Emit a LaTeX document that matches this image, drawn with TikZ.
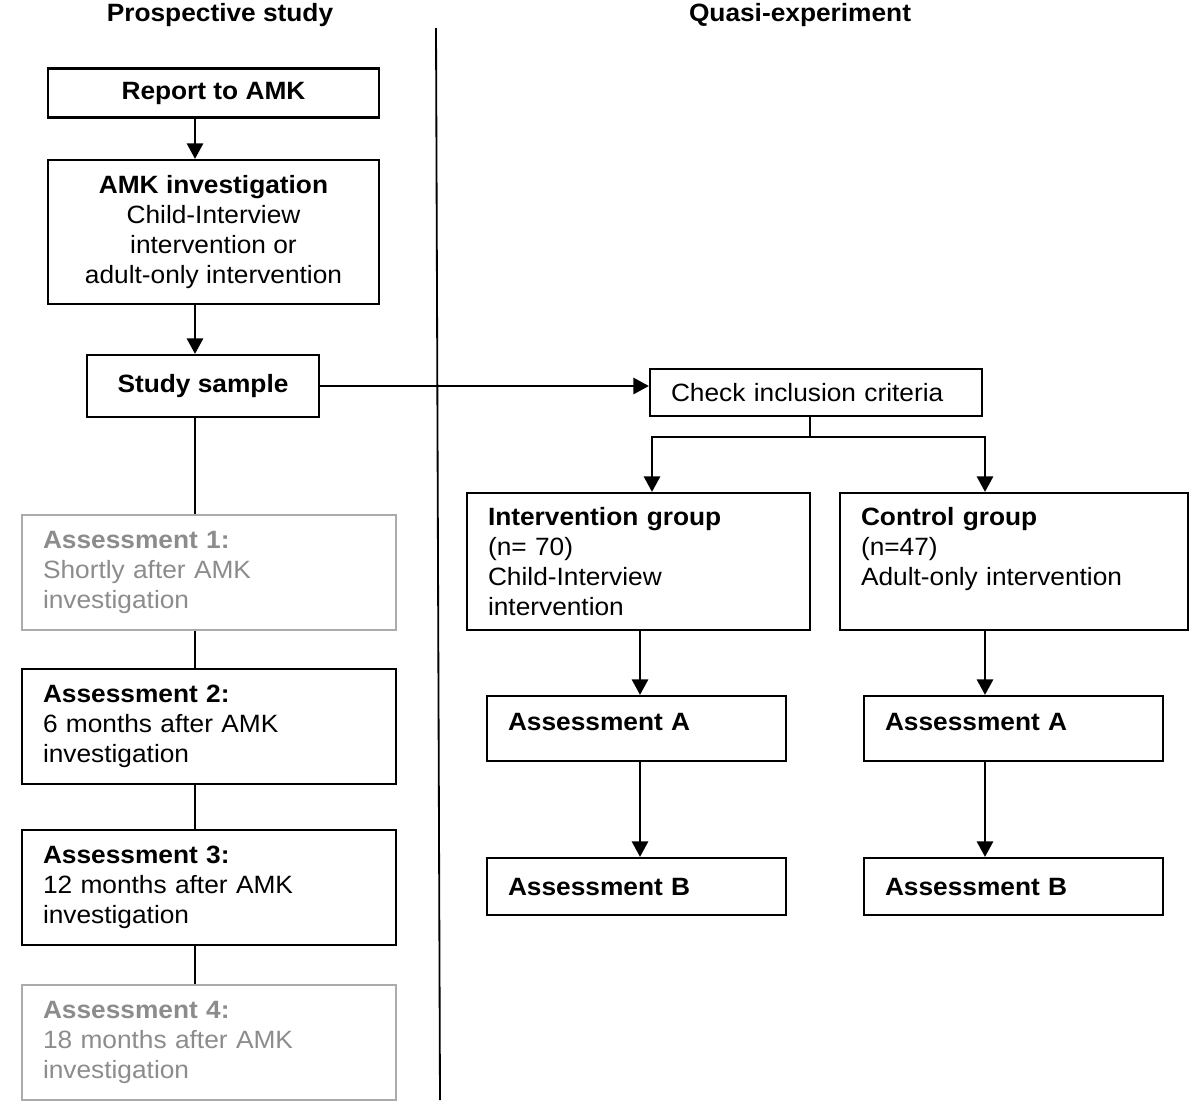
\documentclass[tikz,border=0pt]{standalone}
\usepackage{fontspec}
\setmainfont{Liberation Sans}[FakeStretch=1.05]
\usetikzlibrary{positioning,arrows.meta}
\definecolor{paleline}{HTML}{ABABAB}
\definecolor{paletext}{HTML}{8C8C8C}
\newcommand{\pxu}{0.025cm}

\begin{document}
\begin{tikzpicture}[
    x=0.025cm, y=-0.025cm,
    font=\fontsize{17.8pt}{21.3pt}\selectfont,
    box/.style={rectangle, draw, line width=1.6pt, inner xsep=21*\pxu,
                inner ysep=0pt, align=left},
    cbox/.style={rectangle, draw, line width=1.6pt, inner sep=0pt, align=center},
    pale/.style={draw=paleline, text=paletext},
    arr/.style={-{Triangle[length=11pt,width=11.5pt]}, line width=1.6pt},
    link/.style={line width=1.6pt}
  ]
    \useasboundingbox (0,0) rectangle (1200,1112);

    % column titles and divider
    \node[font=\fontsize{17.8pt}{21.3pt}\selectfont\bfseries] (hdl) at (220,15) {Prospective study};
    \node[font=\fontsize{17.8pt}{21.3pt}\selectfont\bfseries] (hdr) at (800,15) {Quasi-experiment};
    \coordinate (divtop) at (436,28);
    \coordinate (divbot) at (440,1100);
    \draw[line width=1.3pt] (divtop) -- (divbot);

    % prospective study
    \node[cbox, minimum width=331*\pxu, minimum height=49*\pxu] (report) at (213.5,93)
      {\textbf{Report to AMK}};
    \node[cbox, minimum width=331*\pxu, minimum height=144*\pxu] (amk) at (213.5,232)
      {\textbf{AMK investigation}\\Child-Interview\\intervention or\\adult-only intervention};
    \node[cbox, minimum width=232*\pxu, minimum height=62*\pxu] (study) at (203,386)
      {\textbf{Study sample}};
    \node[box, pale, text width=332*\pxu, minimum height=115*\pxu] (asm1) at (209,572.5)
      {\textbf{Assessment 1:}\\Shortly after AMK\\investigation};
    \node[box, text width=332*\pxu, minimum height=115*\pxu] (asm2) at (209,726.5)
      {\textbf{Assessment 2:}\\6 months after AMK\\investigation};
    \node[box, text width=332*\pxu, minimum height=115*\pxu] (asm3) at (209,887.5)
      {\textbf{Assessment 3:}\\12 months after AMK\\investigation};
    \node[box, pale, text width=332*\pxu, minimum height=115*\pxu] (asm4) at (209,1042.5)
      {\textbf{Assessment 4:}\\18 months after AMK\\investigation};

    % quasi-experiment
    \node[box, text width=290*\pxu, minimum height=47*\pxu] (check) at (816,392.5)
      {Check inclusion criteria};
    \node[box, text width=301*\pxu, minimum height=137*\pxu] (ig) at (638.5,561.5)
      {\textbf{Intervention group}\\(n= 70)\\Child-Interview\\intervention};
    \node[box, text width=306*\pxu, minimum height=137*\pxu] (cg) at (1014,561.5)
      {\textbf{Control group}\\(n=47)\\Adult-only intervention\\\mbox{}};
    \node[box, text width=257*\pxu, minimum height=65*\pxu, text depth=14*\pxu] (igA) at (636.5,728.5)
      {\textbf{Assessment A}};
    \node[box, text width=257*\pxu, minimum height=57*\pxu] (igB) at (636.5,886.5)
      {\textbf{Assessment B}};
    \node[box, text width=257*\pxu, minimum height=65*\pxu, text depth=14*\pxu] (cgA) at (1013.5,728.5)
      {\textbf{Assessment A}};
    \node[box, text width=257*\pxu, minimum height=57*\pxu] (cgB) at (1013.5,886.5)
      {\textbf{Assessment B}};

    % connectors
    \coordinate (spine) at (195,0);
    \draw[arr]  (report.south -| spine) -- (amk.north -| spine);
    \draw[arr]  (amk.south -| spine)    -- (study.north -| spine);
    \draw[link] (study.south -| spine)  -- (asm1.north -| spine);
    \draw[link] (asm1.south -| spine)   -- (asm2.north -| spine);
    \draw[link] (asm2.south -| spine)   -- (asm3.north -| spine);
    \draw[link] (asm3.south -| spine)   -- (asm4.north -| spine);

    \draw[arr] (study.east) -- (study.east -| check.west);

    \coordinate (stem) at (810,437);
    \coordinate (forkL) at (652,437);
    \coordinate (forkR) at (985,437);
    \draw[link] (check.south -| stem) -- (stem);
    \draw[arr]  (stem) -| (ig.north -| forkL);
    \draw[arr]  (stem) -| (cg.north -| forkR);

    \coordinate (colL) at (640,0);
    \coordinate (colR) at (985,0);
    \draw[arr] (ig.south -| colL)  -- (igA.north -| colL);
    \draw[arr] (igA.south -| colL) -- (igB.north -| colL);
    \draw[arr] (cg.south -| colR)  -- (cgA.north -| colR);
    \draw[arr] (cgA.south -| colR) -- (cgB.north -| colR);
  \end{tikzpicture}
\end{document}
